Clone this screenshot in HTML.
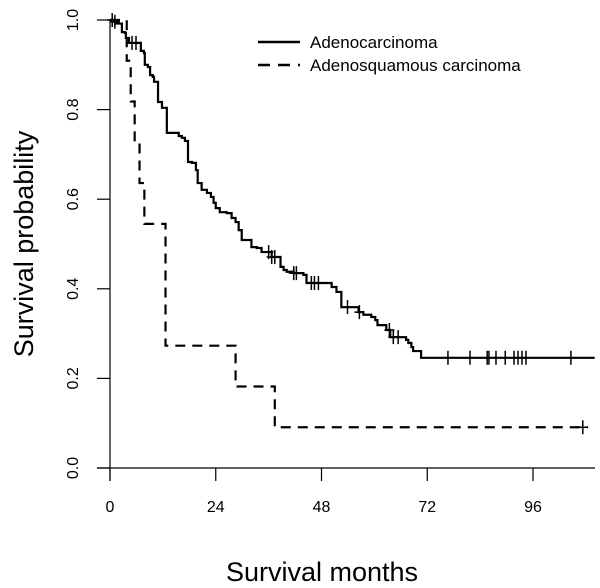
<!DOCTYPE html>
<html><head><meta charset="utf-8">
<style>
body{margin:0;background:#fff;}
svg{display:block;font-family:"Liberation Sans",sans-serif;}
</style></head>
<body>
<svg id="chart" width="600" height="588" viewBox="0 0 600 588">
<g id="axes"></g>
<g id="curves"></g>
<g>
<line x1="258" y1="42" x2="300" y2="42" stroke="#000" stroke-width="2.5"/>
<text x="310" y="48" font-size="17">Adenocarcinoma</text>
<line x1="258" y1="65" x2="300" y2="65" stroke="#000" stroke-width="2.5" stroke-dasharray="12,8"/>
<text x="310" y="71" font-size="17">Adenosquamous carcinoma</text>
</g>
<text transform="translate(33,244) rotate(-90)" text-anchor="middle" font-size="27">Survival probability</text>
<text x="322" y="581" text-anchor="middle" font-size="27">Survival months</text>
</svg>
<script>
const xTicks=[0,24,48,72,96];
const yTicks=[0.0,0.2,0.4,0.6,0.8,1.0];
const yTickLabels=["0.0","0.2","0.4","0.6","0.8","1.0"];
const adenoTimes=[0.9,1.4,2.7,3.4,3.6,4.3,7.0,7.7,7.9,8.6,9.1,9.7,10.0,10.9,11.8,12.9,15.6,16.3,17.0,17.7,18.6,19.5,19.9,20.8,22.0,22.9,23.5,24.0,24.9,26.5,27.6,28.5,29.2,29.9,32.1,33.3,34.4,36.7,38.7,39.4,40.1,41.7,43.9,44.6,50.3,51.4,52.5,56.4,57.5,59.3,60.2,60.7,62.7,63.6,67.2,67.7,68.4,68.8,70.6];
const adenoSurv=[0.996,0.992,0.973,0.971,0.960,0.949,0.931,0.926,0.900,0.895,0.877,0.873,0.862,0.817,0.804,0.748,0.741,0.737,0.730,0.683,0.681,0.665,0.636,0.621,0.614,0.605,0.592,0.580,0.571,0.569,0.558,0.549,0.531,0.509,0.493,0.491,0.482,0.471,0.449,0.442,0.438,0.435,0.431,0.413,0.404,0.393,0.359,0.348,0.342,0.337,0.330,0.319,0.308,0.292,0.286,0.279,0.270,0.261,0.246];
const adenoCensor=[0.5,1.1,5.0,5.9,36.0,36.7,37.4,41.7,42.3,45.7,46.4,47.3,53.9,56.6,63.4,64.3,65.4,76.7,81.7,85.6,86.0,87.6,89.7,91.7,92.6,93.5,94.4,104.6];
const adenoEnd=110;
const sqTimes=[3.8,4.7,5.6,6.7,7.8,12.6,28.5,37.4];
const sqSurv=[0.909,0.818,0.727,0.636,0.545,0.273,0.182,0.091];
const sqCensor=[107.3];
const sqEnd=108.5;

const NS="http://www.w3.org/2000/svg";
const X=t=>110+t*(533-110)/96;
const Y=s=>468-s*448;
function el(tag,attrs,parent){const e=document.createElementNS(NS,tag);for(const k in attrs)e.setAttribute(k,attrs[k]);parent.appendChild(e);return e;}
const axes=document.getElementById('axes'), curves=document.getElementById('curves');
let a=el('line',{x1:110,y1:Y(1),x2:110,y2:481,stroke:'#000','stroke-width':1.2},axes);


a=el('line',{x1:97,y1:468,x2:595,y2:468,stroke:'#000','stroke-width':1.2},axes);


xTicks.forEach(t=>{
 const l=el('line',{x1:X(t),y1:468,x2:X(t),y2:481,stroke:'#000','stroke-width':1.2},axes);
 
 
 const tx=el('text',{x:X(t),y:512,'text-anchor':'middle','font-size':16},axes);
 tx.textContent=String(t);
 
 
});
yTicks.forEach((s,i)=>{
 const l=el('line',{x1:97,y1:Y(s),x2:110,y2:Y(s),stroke:'#000','stroke-width':1.2},axes);
 
 
 const tx=el('text',{transform:`translate(78,${Y(s)}) rotate(-90)`,'text-anchor':'middle','font-size':16},axes);
 tx.textContent=yTickLabels[i];
 
 
});
function stepPath(times,surv,end){
 let d=`M${X(0)},${Y(1)}`;
 times.forEach((t,i)=>{d+=` H${X(t)} V${Y(surv[i])}`;});
 d+=` H${X(end)}`;return d;
}
function survAt(times,surv,t){let s=1;times.forEach((tt,i)=>{if(tt<=t)s=surv[i];});return s;}
let p=el('path',{d:stepPath(adenoTimes,adenoSurv,adenoEnd),fill:'none',stroke:'#000','stroke-width':2.2},curves);


p=el('path',{d:stepPath(sqTimes,sqSurv,sqEnd),fill:'none',stroke:'#000','stroke-width':2.2,'stroke-dasharray':'10,7'},curves);


adenoCensor.forEach(t=>{
 const y=Y(survAt(adenoTimes,adenoSurv,t));
 const c=el('path',{d:`M${X(t)},${y-7}V${y+7}M${X(t)-5},${y}H${X(t)+5}`,stroke:'#000','stroke-width':1.5},curves);
 
 
});
sqCensor.forEach(t=>{
 const y=Y(survAt(sqTimes,sqSurv,t));
 const c=el('path',{d:`M${X(t)},${y-7}V${y+7}M${X(t)-5},${y}H${X(t)+5}`,stroke:'#000','stroke-width':1.5},curves);
 
 
});
</script>
</body></html>
